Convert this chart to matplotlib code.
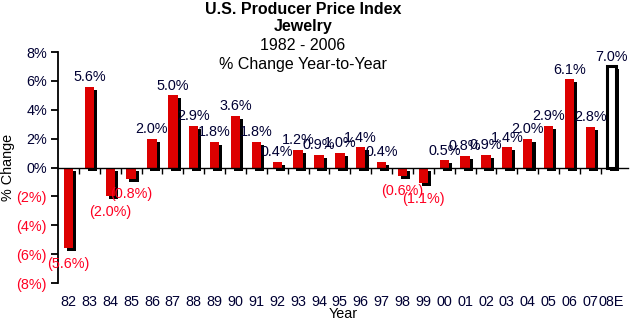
import numpy as np
import matplotlib
matplotlib.use("Agg")
import matplotlib.pyplot as plt
import matplotlib.patheffects as pe
from matplotlib.ticker import FixedLocator

plt.rcParams['font.family'] = ['Liberation Sans', 'DejaVu Sans']

# data
years = ['82', '83', '84', '85', '86', '87', '88', '89', '90', '91', '92', '93', '94',
         '95', '96', '97', '98', '99', '00', '01', '02', '03', '04', '05', '06', '07', '08E']
changes = [-5.6, 5.6, -2.0, -0.8, 2.0, 5.0, 2.9, 1.8, 3.6, 1.8, 0.4, 1.2, 0.9,
           1.0, 1.4, 0.4, -0.6, -1.1, 0.5, 0.8, 0.9, 1.4, 2.0, 2.9, 6.1, 2.8, 7.0]
yticks = [-8, -6, -4, -2, 0, 2, 4, 6, 8]

navy = '#000033'
red_txt = '#ff0022'
bar_red = '#dd0000'
fs = 10.4

fig = plt.figure(figsize=(6.32, 3.21), dpi=100)
ax = fig.add_axes([58 / 632, 1 - 283 / 321, 570 / 632, 231 / 321])

x = np.arange(len(years))
shadow = [pe.SimplePatchShadow(offset=(2.2, -2.2), shadow_rgbFace='black', alpha=1.0), pe.Normal()]
bars = ax.bar(x, changes, width=0.45, color=bar_red, zorder=3)
for b in bars:
    b.set_path_effects(shadow)
# last bar is the estimate: hollow with thick outline
bars[-1].set_facecolor('white')
bars[-1].set_edgecolor('black')
bars[-1].set_linewidth(2.2)

for xi, v in zip(x, changes):
    if v >= 0:
        ax.annotate(f'{v:.1f}%', (xi, v), xytext=(0, 2), textcoords='offset points',
                    ha='center', va='bottom', fontsize=fs, color=navy, zorder=5)
    else:
        ax.annotate(f'({-v:.1f}%)', (xi, v), xytext=(0, -6), textcoords='offset points',
                    ha='center', va='top', fontsize=fs, color=red_txt, zorder=5)

ax.set_xlim(-0.5, 26.8)
ax.set_ylim(-8, 8)

# y axis
ax.set_yticks(yticks)
ax.set_yticklabels([f'{t}%' if t >= 0 else f'({-t}%)' for t in yticks], fontsize=fs)
for lab, t in zip(ax.get_yticklabels(), yticks):
    lab.set_color(navy if t >= 0 else red_txt)
ax.tick_params(axis='y', direction='out', length=5, width=1.3, pad=3)
ax.spines['left'].set_linewidth(1.3)
ax.set_ylabel('% Change', fontsize=fs, color='black')
ax.yaxis.set_label_coords(-0.076, 0.5)

# zero line with little ticks between categories
ax.spines['bottom'].set_position(('data', 0))
ax.spines['bottom'].set_linewidth(1.0)
ax.spines['bottom'].set_zorder(4)
ax.spines['top'].set_visible(False)
ax.spines['right'].set_visible(False)
ax.set_xticks([])
ax.xaxis.set_minor_locator(FixedLocator(x[:-1] + 0.5))
ax.tick_params(axis='x', which='minor', direction='out', length=4, width=1.0)

# category labels along the bottom of the plot area
sec = ax.secondary_xaxis(0)
sec.set_xticks(x)
sec.set_xticklabels(years, fontsize=fs, color=navy)
sec.tick_params(length=0, pad=9)
sec.spines['bottom'].set_visible(False)
sec.set_xlabel('Year', fontsize=fs, labelpad=-2)

cx = 303 / 632
fig.text(cx, 1 - 10 / 321, 'U.S. Producer Price Index', ha='center', va='center', fontsize=11.5, fontweight='bold')
fig.text(cx, 1 - 27 / 321, 'Jewelry', ha='center', va='center', fontsize=11.5, fontweight='bold')
fig.text(cx, 1 - 46 / 321, '1982 - 2006', ha='center', va='center', fontsize=11.5)
fig.text(cx, 1 - 64 / 321, '% Change Year-to-Year', ha='center', va='center', fontsize=11.5)

fig.savefig('out.png', dpi=100)
